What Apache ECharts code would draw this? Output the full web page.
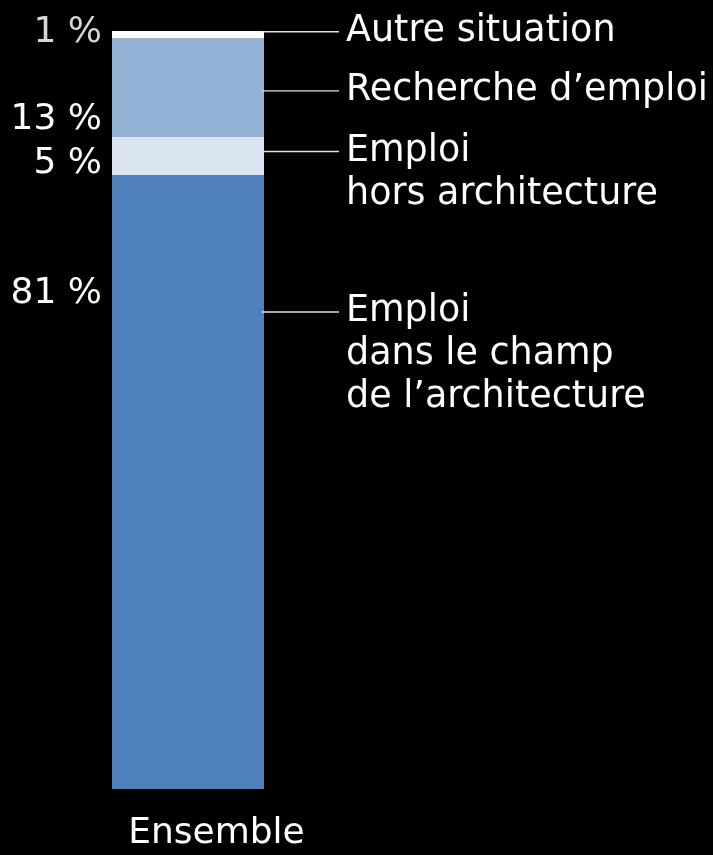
<!DOCTYPE html>
<html>
<head>
    <meta charset="utf-8">
    <title>Situation des diplômés</title>
    <script src="https://cdn.jsdelivr.net/npm/echarts@6/dist/echarts.min.js"></script>
    <style>
        html, body { margin: 0; padding: 0; background: #000; }
        #chart1 { width: 713px; height: 855px; }
    </style>
</head>
<body>
<div id="chart1"></div>
<script type="text/javascript">
    // données (de bas en haut de la pile)
    var categories = ['Ensemble'];
    var seriesNames = ['Emploi dans le champ de l\u2019architecture', 'Emploi hors architecture', 'Recherche d\u2019emploi', 'Autre situation'];
    var values = [81, 5, 13, 1];
    var pctLabels = ['81 %', '5 %', '13 %', '1 %'];
    var sideLabels = [
        ['Emploi', 'dans le champ', 'de l\u2019architecture'],
        ['Emploi', 'hors architecture'],
        ['Recherche d\u2019emploi'],
        ['Autre situation']
    ];

    var colors = ['#4f81bd', '#dbe5f1', '#95b3d7', '#ffffff'];
    var pctColors = ['#ffffff', '#ffffff', '#ffffff', '#d6d6d6'];
    // décalages verticaux des étiquettes (px)
    var pctOffsets = [-188, 8, 32, -2];
    var sideOffsets = [-127, 17, 3, -3];

    var font = 'DejaVu Sans';
    var series = [];

    values.forEach(function (v, i) {
        series.push({
            name: seriesNames[i],
            type: 'bar',
            stack: 'a',
            barWidth: '100%',
            barGap: '-100%',
            data: [v],
            itemStyle: { color: colors[i] },
            label: {
                show: true,
                position: 'left',
                distance: 10,
                offset: [0, pctOffsets[i]],
                formatter: pctLabels[i],
                color: pctColors[i],
                fontFamily: font,
                fontSize: 36
            }
        });
    });

    values.forEach(function (v, i) {
        var lines = sideLabels[i].map(function (t, k) {
            return (k === 0 ? '{ln|}' : '{sp|}') + '{t|' + t + '}';
        });
        series.push({
            name: seriesNames[i] + ' (légende)',
            type: 'bar',
            stack: 'b',
            barWidth: '100%',
            silent: true,
            data: [v],
            itemStyle: { color: 'rgba(0,0,0,0)' },
            label: {
                show: true,
                position: 'right',
                distance: -2,
                offset: [0, sideOffsets[i]],
                formatter: lines.join('\n'),
                rich: {
                    ln: { width: 77, height: 1.4, lineHeight: 43, backgroundColor: '#e0e0e0' },
                    sp: { width: 77, lineHeight: 43 },
                    t: { color: '#ffffff', fontFamily: font, fontSize: 36.5, lineHeight: 43, padding: [0, 0, 0, 7] }
                }
            }
        });
    });

    var myChart1 = echarts.init(document.getElementById('chart1'));
    myChart1.setOption({
        backgroundColor: '#000',
        animation: false,
        // hauteur choisie pour que la limite 81 % tombe sur un pixel entier
        grid: { left: 112, right: 449, top: 31, bottom: 66.1, containLabel: false },
        xAxis: {
            type: 'category',
            data: categories,
            axisLine: { show: false },
            axisTick: { show: false },
            axisLabel: {
                margin: 27,
                formatter: '{c|{value}}',
                rich: {
                    c: { color: '#ffffff', fontFamily: font, fontSize: 36, padding: [0, 0, 0, 57] }
                }
            }
        },
        yAxis: {
            type: 'value',
            min: 0,
            max: 100,
            show: false
        },
        series: series
    });
</script>
</body>
</html>
